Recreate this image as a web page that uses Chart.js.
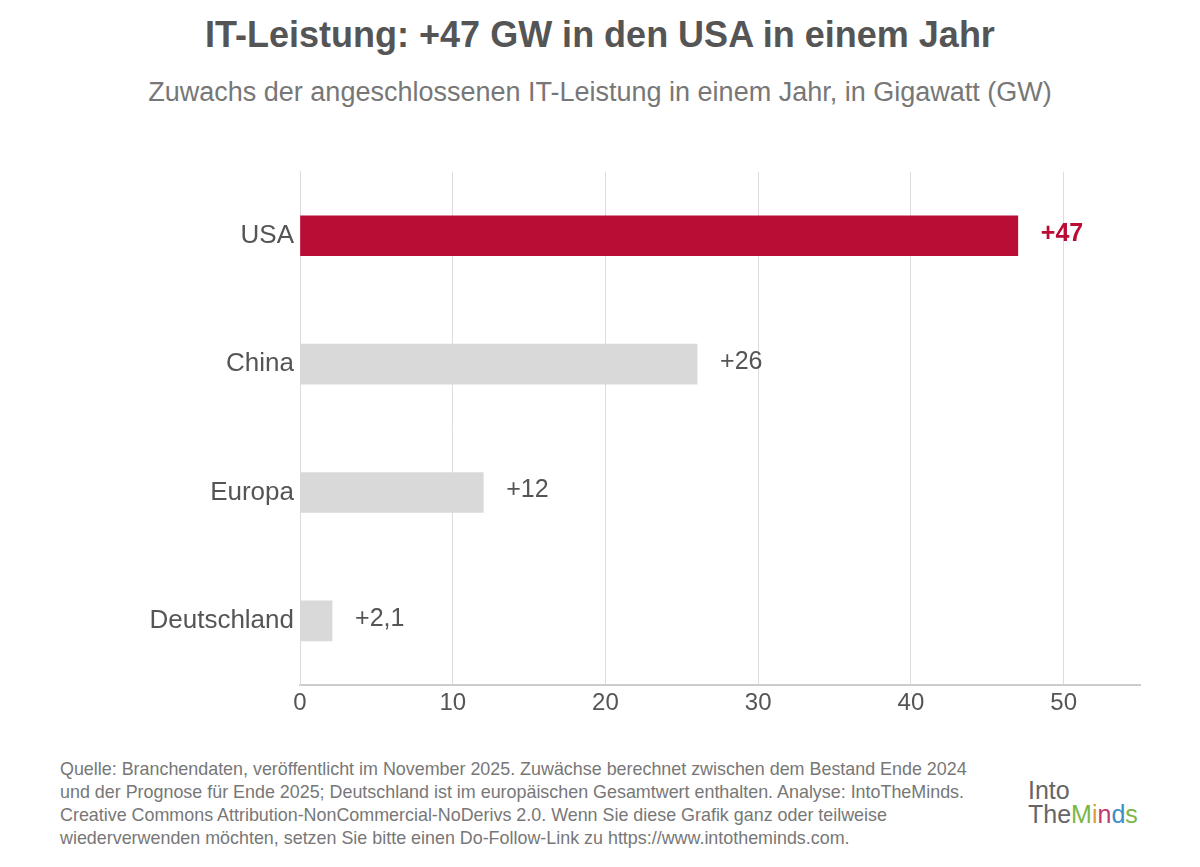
<!DOCTYPE html>
<html><head><meta charset="utf-8">
<script src="https://cdn.jsdelivr.net/npm/chart.js@4/dist/chart.umd.min.js"></script>
<style>
body{margin:0;width:1200px;height:867px;background:#fff;font-family:"Liberation Sans",Arial,sans-serif;position:relative;overflow:hidden}
#t{position:absolute;top:14px;width:1200px;text-align:center;font-size:36px;font-weight:bold;color:#555}
#s{position:absolute;top:77px;width:1200px;text-align:center;font-size:27px;color:#777}
#c{position:absolute;left:0;top:150px;width:1200px;height:585px}
#f{position:absolute;left:60px;top:758px;font-size:17.9px;line-height:23px;color:#777;width:925px}
#logo{position:absolute;left:1028px;top:778px;font-size:25px;line-height:24px;color:#666}
</style></head><body>
<div id="t">IT-Leistung: +47 GW in den USA in einem Jahr</div>
<div id="s">Zuwachs der angeschlossenen IT-Leistung in einem Jahr, in Gigawatt (GW)</div>
<div id="c"><canvas id="chart"></canvas></div>
<div id="f">Quelle: Branchendaten, veröffentlicht im November 2025. Zuwächse berechnet zwischen dem Bestand Ende 2024 und der Prognose für Ende 2025; Deutschland ist im europäischen Gesamtwert enthalten. Analyse: IntoTheMinds. Creative Commons Attribution-NonCommercial-NoDerivs 2.0. Wenn Sie diese Grafik ganz oder teilweise wiederverwenden möchten, setzen Sie bitte einen Do-Follow-Link zu https://www.intotheminds.com.</div>
<div id="logo">Into<br>The<span style="color:#7ab648">M</span><span style="color:#e39b2f">i</span><span style="color:#c0396b">n</span><span style="color:#3b8fc4">d</span><span style="color:#7ab648">s</span></div>
<script>
const categories = ["USA", "China", "Europa", "Deutschland"];
const values = [47, 26, 12, 2.1];
const valueLabels = ["+47", "+26", "+12", "+2,1"];
const xTicks = [0, 10, 20, 30, 40, 50];
const colors = ["#b90d36", "#d9d9d9", "#d9d9d9", "#d9d9d9"];

const labelPlugin = {
  id: "labels",
  afterDatasetsDraw(chart) {
    const ctx = chart.ctx;
    chart.getDatasetMeta(0).data.forEach((bar, i) => {
      ctx.save();
      ctx.font = (i === 0 ? "bold " : "") + "25px 'Liberation Sans', Arial, sans-serif";
      ctx.fillStyle = i === 0 ? "#b90d36" : "#555";
      ctx.textBaseline = "middle";
      ctx.fillText(valueLabels[i], bar.x + 23, bar.y - 2);
      ctx.restore();
    });
  }
};

new Chart(document.getElementById("chart"), {
  type: "bar",
  data: { labels: categories, datasets: [{ data: values, backgroundColor: colors, barThickness: 40 }] },
  options: {
    indexAxis: "y",
    responsive: true,
    maintainAspectRatio: false,
    animation: false,
    layout: { padding: { right: 60, top: 15 } },
    plugins: { legend: { display: false }, tooltip: { enabled: false } },
    scales: {
      x: {
        min: 0, max: 55,
        afterBuildTicks: (s) => { s.ticks = xTicks.map(v => ({ value: v })); },
        afterFit: (s) => { s.height = 50; },
        grid: { color: "#dddddd", drawTicks: false },
        border: { color: "#cccccc", width: 2 },
        ticks: { color: "#555", font: { size: 24, family: "Liberation Sans" }, padding: 4 }
      },
      y: {
        afterFit: (s) => { s.width = 300; },
        grid: { display: false, drawTicks: false },
        border: { color: "#dddddd" },
        ticks: { color: "#555", font: { size: 26, family: "Liberation Sans" }, padding: 6 }
      }
    }
  },
  plugins: [labelPlugin]
});
</script>
</body></html>
